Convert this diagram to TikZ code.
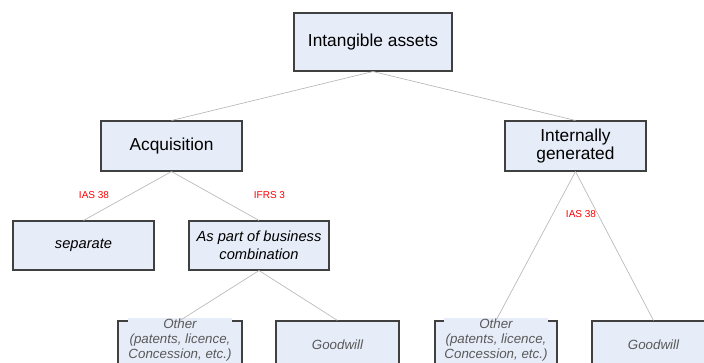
\documentclass[tikz,border=0pt]{standalone}
\usepackage{fontspec}
\setmainfont{Liberation Sans}
\begin{document}
\begin{tikzpicture}[x=0.75pt,y=-0.75pt,
  box/.style={draw=black!75,fill=boxfill,line width=0.8pt,inner sep=0pt,align=center},
  conn/.style={draw=black!28,line width=0.5pt},
  std/.style={text=red,font=\fontsize{7.5}{9}\selectfont,inner sep=0pt},
  lowtxt/.style={text=black!65,font=\fontsize{10}{11.2}\selectfont\itshape,align=center,inner sep=0.5pt}]
\definecolor{boxfill}{RGB}{230,236,248}
\useasboundingbox (0,0) rectangle (704,363);
\clip (0,0) rectangle (704,363);
\node[box,minimum width=118.5pt,minimum height=43.5pt,font=\fontsize{13}{15}\selectfont] (top) at (373,42) {Intangible assets};
\node[box,minimum width=105.75pt,minimum height=37.5pt,font=\fontsize{13}{15}\selectfont] (acq) at (171.5,146) {Acquisition};
\node[box,minimum width=105.75pt,minimum height=37.5pt,font=\fontsize{13}{13.6}\selectfont] (int) at (575.5,146) {Internally\\generated};
\node[box,minimum width=105.75pt,minimum height=36.75pt,font=\fontsize{11}{13}\selectfont\itshape] (sep) at (83.5,245.5) {separate};
\node[box,minimum width=105pt,minimum height=36.75pt,font=\fontsize{11}{13.3}\selectfont\itshape] (bus) at (259,245.5) {As part of business\\combination};
\node[box,minimum width=93pt,minimum height=45pt] (oth1) at (180,351) {};
\node[box,minimum width=92.25pt,minimum height=45pt] (gw1) at (337.5,351) {};
\node[box,minimum width=91.5pt,minimum height=45pt] (oth2) at (496,351) {};
\node[box,minimum width=92.25pt,minimum height=45pt] (gw2) at (653.5,351) {};
\node[lowtxt,fill=boxfill] (t1) at (180,340) {Other\\(patents, licence,\\Concession, etc.)};
\node[lowtxt,fill=boxfill] (t2) at (496,340) {Other\\(patents, licence,\\Concession, etc.)};
\node[lowtxt] (g1) at (337.5,345) {Goodwill};
\node[lowtxt] (g2) at (653.5,345) {Goodwill};
\draw[conn] (top.south) -- (acq.north);
\draw[conn] (top.south) -- (int.north);
\draw[conn] (acq.south) -- (sep.north);
\draw[conn] (acq.south) -- (bus.north);
\draw[conn] (int.south) -- (oth2.north);
\draw[conn] (int.south) -- (gw2.north);
\draw[conn] (bus.south) -- (oth1.north);
\draw[conn] (bus.south) -- (gw1.north);
\node[std] (l1) at (94,195) {IAS 38};
\node[std] (l2) at (269.5,195) {IFRS 3};
\node[std] (l3) at (581,214) {IAS 38};
\end{tikzpicture}
\end{document}
